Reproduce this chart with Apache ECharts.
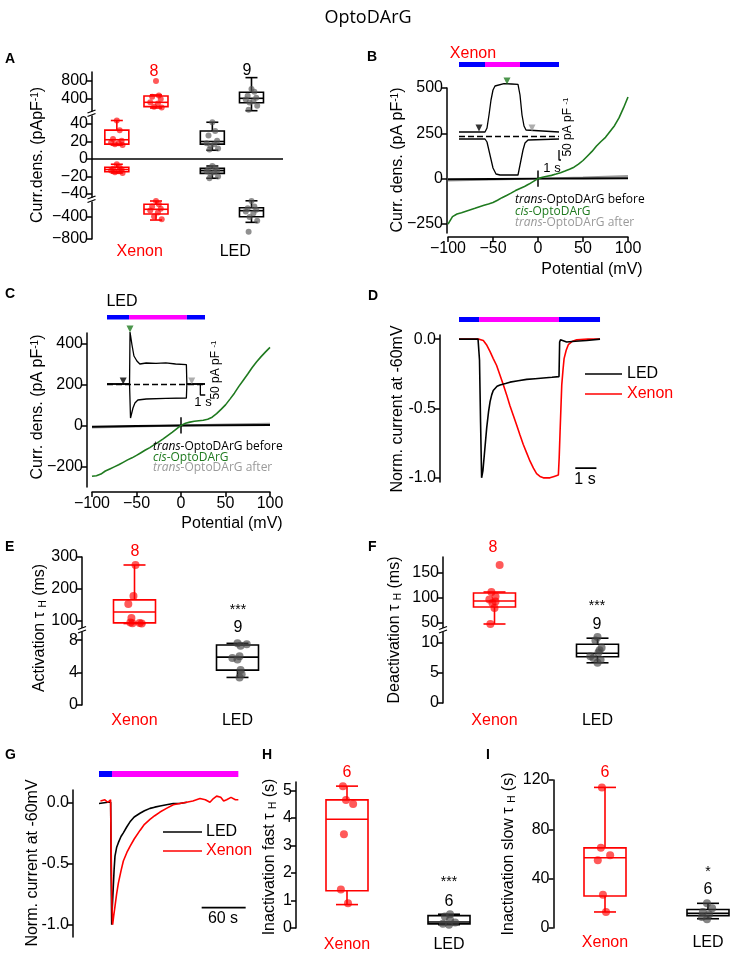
<!DOCTYPE html>
<html>
<head>
<meta charset="utf-8">
<title>OptoDArG</title>
<script src="https://cdn.jsdelivr.net/npm/echarts@6/dist/echarts.min.js"></script>
<style>
html, body { margin: 0; padding: 0; background: #fff; }
#main { width: 736px; height: 953px; }
</style>
</head>
<body>
<div id="main"></div>
<script>
// ---------- data ----------
var groups = ['Xenon', 'LED'];

// A: current density (pA/pF); box = [min, q1, median, q3, max]
var aXenTransPos = [44, 33, 23, 21, 19, 18, 17, 16];
var aXenTransPosBox = [16, 17, 22, 33, 44];
var aXenTransNeg = [-6, -10, -11, -12, -13, -14, -15, -16];
var aXenTransNegBox = [-16, -14.5, -12, -9.5, -6];
var aLedTransPos = [42, 32, 27, 21, 18, 17, 15, 12, 11];
var aLedTransPosBox = [10, 17, 20, 32, 42];
var aLedTransNeg = [-8, -10, -12, -13, -14, -15, -17, -20, -22];
var aLedTransNegBox = [-22, -16.4, -13.3, -10.7, -8];
var aXenCisPos = [800, 480, 450, 400, 330, 300, 230, 210];
var aXenCisPosBox = [200, 230, 326, 467, 490];
var aLedCisPos = [620, 560, 470, 430, 390, 350, 320, 250, 160];
var aLedCisPosBox = [140, 318, 415, 549, 875];
var aXenCisNeg = [-110, -170, -210, -250, -280, -320, -390, -440];
var aXenCisNegBox = [-455, -345, -260, -169, -109];
var aLedCisNeg = [-110, -210, -240, -270, -300, -330, -400, -470, -667];
var aLedCisNegBox = [-497, -395, -285, -231, -105];

// B: Xenon, I-V curves (mV, pA/pF)
var bCis = [[-100,-251],[-95,-210],[-90,-195],[-85,-188],[-80,-180],[-75,-172],[-70,-164],[-65,-155],[-60,-147],[-55,-140],[-50,-132],[-45,-119],[-40,-105],[-35,-93],[-30,-80],[-25,-66],[-20,-54],[-15,-43],[-10,-30],[-5,-15],[0,0],[5,8],[10,13],[15,18],[20,25],[25,33],[30,42],[35,52],[40,63],[45,80],[50,100],[55,125],[60,150],[65,180],[70,205],[75,228],[80,260],[85,292],[90,335],[95,390],[100,450]];
var bBefore = [[-100,-4],[-50,-2],[0,0],[50,1],[100,2]];
var bAfter = [[-100,-10],[-50,-5],[0,0],[50,6],[100,15]];
// B inset: time (s), current (pA/pF)
var bInsetUp = [[0,20],[5.2,20],[5.6,40],[6.0,105],[6.4,180],[6.8,230],[7.2,250],[7.6,260],[9,262],[10.5,260],[11.8,258],[12.2,205],[12.6,105],[13.0,50],[13.4,30],[13.8,20],[20,20]];
var bInsetDown = [[0,-15],[5.2,-15],[5.6,-30],[6.2,-95],[6.8,-160],[7.4,-190],[8.2,-195],[11.8,-195],[12.2,-145],[12.8,-70],[13.2,-35],[13.8,-20],[20,-15]];
var bArrows = [[4.0,40,'before'],[9.6,275,'cis'],[14.6,40,'after']];
var bLight = [[0,5.2,'blue'],[5.2,12.2,'uv'],[12.2,20,'blue']];

// C: LED, I-V curves
var cCis = [[-100,-248],[-95,-245],[-90,-237],[-85,-222],[-80,-212],[-75,-202],[-70,-192],[-65,-180],[-60,-168],[-55,-158],[-50,-146],[-45,-133],[-40,-120],[-35,-108],[-30,-94],[-25,-80],[-20,-66],[-15,-50],[-10,-34],[-5,-17],[0,0],[5,10],[10,16],[15,20],[20,23],[25,25],[30,30],[35,40],[40,57],[45,78],[50,100],[55,128],[60,157],[65,190],[70,220],[75,250],[80,282],[85,310],[90,335],[95,358],[100,380]];
var cBefore = [[-100,-6],[-50,-3],[0,0],[50,1],[100,2]];
var cAfter = [[-100,-10],[-50,-5],[0,0],[50,4],[100,8]];
var cInsetUp = [[0,0],[4.6,0],[4.7,260],[5.1,195],[5.5,140],[6.1,115],[6.7,100],[8,105],[10,103],[12,106],[14,100],[16.2,97],[16.3,0],[20,0]];
var cInsetDown = [[0,0],[4.6,0],[4.8,-170],[5.3,-120],[5.7,-95],[6.3,-80],[8,-75],[12,-72],[16.2,-70],[16.3,0],[20,0]];
var cArrows = [[3.3,15,'before'],[4.7,275,'cis'],[17.3,15,'after']];
var cLight = [[0,4.5,'blue'],[4.5,16.3,'uv'],[16.3,20,'blue']];

// D: normalised current at -60 mV (time s)
var dLed = [[0,0],[0.9,0],[0.97,-0.15],[1.02,-0.6],[1.07,-1.0],[1.13,-0.95],[1.2,-0.83],[1.31,-0.64],[1.4,-0.52],[1.47,-0.45],[1.55,-0.4],[1.62,-0.37],[1.8,-0.34],[1.94,-0.33],[2.2,-0.32],[2.41,-0.31],[2.8,-0.3],[3.2,-0.29],[3.6,-0.285],[3.99,-0.28],[4.4,-0.275],[4.73,-0.27],[4.76,-0.02],[4.8,-0.005],[5.09,-0.02],[5.5,-0.015],[6.04,-0.01],[6.67,0]];
var dXenon = [[0,0],[0.95,0],[1.15,-0.01],[1.3,-0.04],[1.47,-0.09],[1.62,-0.14],[1.78,-0.19],[1.94,-0.26],[2.1,-0.33],[2.25,-0.4],[2.41,-0.48],[2.57,-0.55],[2.73,-0.62],[2.88,-0.69],[3.04,-0.76],[3.2,-0.82],[3.36,-0.88],[3.52,-0.93],[3.67,-0.97],[3.83,-0.99],[3.99,-1.0],[4.15,-1.0],[4.3,-1.0],[4.5,-0.99],[4.7,-0.98],[4.74,-0.85],[4.78,-0.67],[4.82,-0.5],[4.86,-0.33],[4.92,-0.22],[4.97,-0.14],[5.07,-0.08],[5.17,-0.04],[5.37,-0.015],[5.57,-0.005],[6.1,0],[6.67,0]];
var dLight = [[0,0.95,'blue'],[0.95,4.73,'uv'],[4.73,6.67,'blue']];

// E: activation tau (ms)
var eXenon = [275, 178, 153, 109, 95, 94, 93, 92];
var eXenonBox = [92, 94, 128, 166, 275];
var eLed = [7.6, 7.5, 7.3, 6.0, 5.8, 5.6, 4.3, 3.8, 3.4];
var eLedBox = [3.4, 4.3, 5.9, 7.4, 7.6];
// F: deactivation tau (ms)
var fXenon = [166, 112, 103, 97, 93, 90, 80, 48];
var fXenonBox = [48, 82, 94, 110, 112];
var fLed = [11.0, 10.4, 9.2, 8.8, 8.4, 7.8, 7.5, 7.2, 6.7];
var fLedBox = [6.7, 7.7, 8.3, 9.8, 10.8];

// G: inactivation traces (time s)
var gLed = [[0,-0.01],[12,0],[15.9,0],[16.6,-0.6],[17.3,-1.0],[18.2,-0.85],[19.5,-0.69],[20.6,-0.55],[21.8,-0.44],[24,-0.37],[26.4,-0.33],[30,-0.28],[33.2,-0.25],[38,-0.2],[42.3,-0.16],[48,-0.12],[55.9,-0.09],[62,-0.07],[69.5,-0.05],[76,-0.04],[83.2,-0.03],[92,-0.02],[101.3,-0.01],[110,-0.01],[120,0]];
var gXenon = [[2,0.01],[8,0.02],[12,0.0],[15.8,0.02],[16.4,-0.3],[17.5,-0.8],[18.6,-1.0],[20,-0.93],[21.8,-0.85],[24,-0.75],[26.4,-0.66],[30,-0.56],[33.2,-0.48],[38,-0.41],[42.3,-0.36],[48,-0.3],[55.9,-0.23],[62,-0.18],[69.5,-0.14],[76,-0.11],[83.2,-0.08],[92,-0.05],[101.3,-0.02],[110,-0.01],[119.5,0.0],[128,0.01],[137.7,0.03],[145,0.02],[151.3,0.0],[156,0.03],[160.4,0.05],[166,0.04],[170,0.01],[174,0.02],[180,0.04],[186,0.02],[190,0.02]];
var gLight = [[0,17.7,'blue'],[17.7,190,'uv']];

// H: inactivation fast tau (s)
var hXenon = [5.15, 4.65, 4.5, 3.4, 1.4, 0.9];
var hXenonBox = [0.85, 1.35, 3.95, 4.65, 5.15];
var hLed = [0.5, 0.42, 0.3, 0.2, 0.15, 0.12];
var hLedBox = [0.12, 0.15, 0.22, 0.45, 0.5];
// I: inactivation slow tau (s)
var iXenon = [114, 65, 59, 55, 27, 13];
var iXenonBox = [13, 26, 57, 65, 114];
var iLed = [20, 16, 13, 11, 9, 7];
var iLedBox = [7.5, 10, 12, 15, 20];

// ---------- styling ----------
var FONT = '"Liberation Sans", Arial, sans-serif';
var FONT2 = '"Open Sans", sans-serif';
var RED = '#ff0000';
var GREEN = '#1f7a1f';
var GREY = '#9a9a9a';
var lightColor = { blue: '#0000ff', uv: '#ff00ff' };
var arrowColor = { before: '#000', cis: GREEN, after: GREY };
var jitA = [0.0, 0.03, -0.04, 0.05, -0.06, 0.02, -0.02, 0.06, -0.03];
var jitEX = [0.01, -0.01, -0.06, -0.03, -0.04, 0.05, -0.02, 0.07];
var jitEL = [0, 0.09, 0.03, 0.02, -0.05, 0, 0.03, 0.04, 0.02];
var jitFX = [0.05, -0.03, 0.01, -0.05, 0.01, -0.02, 0.0, -0.04];
var jitFL = [0, -0.02, 0.04, 0.02, 0.01, -0.07, -0.04, 0.03, 0];
var jitHX = [-0.04, -0.01, 0.06, -0.03, -0.06, 0.01];
var jitHL = [0.01, -0.04, 0.01, 0.06, -0.06, 0];
var jitIX = [-0.03, -0.04, 0.05, -0.07, -0.02, 0.01];
var jitIL = [-0.01, 0.04, -0.05, 0.01, -0.06, -0.01];

var grids = [], xAxes = [], yAxes = [], series = [], graphics = [];

function addGrid(g) { grids.push(Object.assign({ show: false, containLabel: false, outerBoundsMode: 'none' }, g)); return grids.length - 1; }
function addX(o) { xAxes.push(o); return xAxes.length - 1; }
function addY(o) { yAxes.push(o); return yAxes.length - 1; }
function hidden(gi, min, max) { return { type: 'value', gridIndex: gi, min: min, max: max, show: false }; }
function minus(v) { return String(v).replace('-', '\u2212'); }
function oneDec(v) { return v.toFixed(1); }
function plain(v) { return String(v); }

function visValue(gi, min, max, ticks, fmt, extra) {
  return Object.assign({
    type: 'value', gridIndex: gi, min: min, max: max,
    axisLine: { show: true, onZero: false, lineStyle: { color: '#000', width: 1.5 } },
    axisTick: { show: true, inside: false, length: 5, customValues: ticks, lineStyle: { color: '#000', width: 1.5 } },
    axisLabel: { show: true, customValues: ticks, color: '#000', fontSize: 16, fontFamily: FONT, margin: 4, formatter: fmt },
    splitLine: { show: false }
  }, extra || {});
}
function catAxis(gi, margin) {
  return {
    type: 'category', gridIndex: gi, data: groups, position: 'bottom',
    axisLine: { show: false }, axisTick: { show: false }, splitLine: { show: false },
    axisLabel: { show: true, interval: 0, margin: margin, fontSize: 16, fontFamily: FONT,
      color: function (v) { return v === 'Xenon' ? RED : '#000'; } }
  };
}

function boxRender(boxW, capW, color) {
  return function (params, api) {
    var x = api.value(0);
    var lo = api.coord([x, api.value(1)]), q1 = api.coord([x, api.value(2)]),
        md = api.coord([x, api.value(3)]), q3 = api.coord([x, api.value(4)]),
        hi = api.coord([x, api.value(5)]);
    var cx = md[0];
    var st = { stroke: color, lineWidth: 1.6, fill: 'none' };
    return { type: 'group', children: [
      { type: 'line', shape: { x1: cx, y1: hi[1], x2: cx, y2: q3[1] }, style: st },
      { type: 'line', shape: { x1: cx, y1: q1[1], x2: cx, y2: lo[1] }, style: st },
      { type: 'line', shape: { x1: cx - capW / 2, y1: hi[1], x2: cx + capW / 2, y2: hi[1] }, style: st },
      { type: 'line', shape: { x1: cx - capW / 2, y1: lo[1], x2: cx + capW / 2, y2: lo[1] }, style: st },
      { type: 'rect', shape: { x: cx - boxW / 2, y: q3[1], width: boxW, height: q1[1] - q3[1] }, style: st },
      { type: 'line', shape: { x1: cx - boxW / 2, y1: md[1], x2: cx + boxW / 2, y2: md[1] }, style: st }
    ] };
  };
}
function addBox(xi, yi, center, stats, color, boxW, capW) {
  series.push({ type: 'custom', xAxisIndex: xi, yAxisIndex: yi, silent: true, z: 2,
    renderItem: boxRender(boxW, capW, color), encode: { x: 0, y: [1, 2, 3, 4, 5] },
    data: [[center].concat(stats)] });
}
function addDots(xi, yi, center, vals, jit, color, size) {
  series.push({ type: 'scatter', xAxisIndex: xi, yAxisIndex: yi, silent: true, z: 3, symbolSize: size,
    itemStyle: { color: color, opacity: 0.65 },
    data: vals.map(function (v, i) { return [center + jit[i % jit.length], v]; }) });
}
function addLine(xi, yi, data, color, width, extra) {
  series.push(Object.assign({ type: 'line', xAxisIndex: xi, yAxisIndex: yi, data: data, symbol: 'none',
    showSymbol: false, silent: true, z: 2, lineStyle: { color: color, width: width }, itemStyle: { color: color } }, extra || {}));
}
function addLight(rect, tmax, segs) {
  var gi = addGrid(rect);
  var xi = addX(hidden(gi, 0, tmax)), yi = addY(hidden(gi, 0, 1));
  series.push({ type: 'custom', xAxisIndex: xi, yAxisIndex: yi, silent: true,
    data: segs.map(function (s) { return [s[0], s[1]]; }),
    renderItem: function (params, api) {
      var a = api.coord([api.value(0), 1]), b = api.coord([api.value(1), 0]);
      return { type: 'rect', shape: { x: a[0], y: a[1], width: b[0] - a[0], height: b[1] - a[1] },
        style: { fill: lightColor[segs[params.dataIndex][2]] } };
    } });
}
function addArrows(xi, yi, arr) {
  series.push({ type: 'scatter', xAxisIndex: xi, yAxisIndex: yi, silent: true, z: 4, symbol: 'triangle',
    symbolRotate: 180, symbolSize: [7, 7],
    data: arr.map(function (a) { return { value: [a[0], a[1]], itemStyle: { color: arrowColor[a[2]] } }; }) });
}
function text(x, y, str, opt) {
  opt = opt || {};
  var st = { text: str, fill: opt.color || '#000',
    fontSize: opt.size || 16, fontFamily: opt.family || FONT, fontWeight: opt.weight || 'normal',
    align: opt.align || 'center', textAlign: opt.align || 'center',
    verticalAlign: 'middle', textVerticalAlign: 'middle' };
  if (opt.rich) st.rich = opt.rich;
  graphics.push({ type: 'text', x: x, y: y, rotation: opt.rot || 0, silent: true, z: 100, style: st });
}
function seg(x1, y1, x2, y2, color, w, dash) {
  graphics.push({ type: 'line', silent: true, z: 100, shape: { x1: x1, y1: y1, x2: x2, y2: y2 },
    style: { stroke: color, lineWidth: w || 1.5, lineDash: dash || null } });
}
function breakMark(x, y) {
  graphics.push({ type: 'rect', silent: true, z: 99, shape: { x: x - 3, y: y - 2, width: 6, height: 4 }, style: { fill: '#fff' } });
  seg(x - 4, y - 0.5, x + 4, y - 3.5, '#000', 1.3);
  seg(x - 4, y + 3, x + 4, y, '#000', 1.3);
}

// ---------- panel A ----------
var aTop = addGrid({ left: 92, width: 191, top: 72, height: 40.5 });
var aMid = addGrid({ left: 92, width: 191, top: 115.25, height: 83.125 });
var aBot = addGrid({ left: 92, width: 191, top: 200.5, height: 38.5 });
var aTopX = addX(hidden(aTop, -0.5, 1.5));
var aMidX = addX(hidden(aMid, -0.5, 1.5));
var aBotX = addX(hidden(aBot, -0.5, 1.5));
addX(catAxis(aBot, 5));
var aTopY = addY(visValue(aTop, 100, 1000, [400, 800], minus));
var aMidY = addY(visValue(aMid, -45, 50, [-40, -20, 0, 20, 40], minus));
var aBotY = addY(visValue(aBot, -800, -100, [-800, -400], minus));
var pT = -0.24, pC = 0.17;
addBox(aTopX, aTopY, pC, aXenCisPosBox, RED, 24, 12);
addDots(aTopX, aTopY, pC, aXenCisPos, jitA, RED, 6);
addBox(aTopX, aTopY, 1 + pC, aLedCisPosBox, '#000', 24, 12);
addDots(aTopX, aTopY, 1 + pC, aLedCisPos, jitA, '#555', 6);
addBox(aMidX, aMidY, pT, aXenTransPosBox, RED, 24, 12);
addDots(aMidX, aMidY, pT, aXenTransPos, jitA, RED, 6);
addBox(aMidX, aMidY, pT, aXenTransNegBox, RED, 24, 12);
addDots(aMidX, aMidY, pT, aXenTransNeg, jitA, RED, 6);
addBox(aMidX, aMidY, 1 + pT, aLedTransPosBox, '#000', 24, 12);
addDots(aMidX, aMidY, 1 + pT, aLedTransPos, jitA, '#555', 6);
addBox(aMidX, aMidY, 1 + pT, aLedTransNegBox, '#000', 24, 12);
addDots(aMidX, aMidY, 1 + pT, aLedTransNeg, jitA, '#555', 6);
series[series.length - 1].markLine = { silent: true, symbol: 'none', label: { show: false },
  lineStyle: { color: '#000', width: 1.5, type: 'solid' }, data: [{ yAxis: 0 }] };
addBox(aBotX, aBotY, pC, aXenCisNegBox, RED, 24, 12);
addDots(aBotX, aBotY, pC, aXenCisNeg, jitA, RED, 6);
addBox(aBotX, aBotY, 1 + pC, aLedCisNegBox, '#000', 24, 12);
addDots(aBotX, aBotY, 1 + pC, aLedCisNeg, jitA, '#555', 6);
breakMark(91.5, 113.5);
breakMark(91.5, 199.5);
text(10, 59, 'A', { weight: 'bold', size: 14 });
text(154, 72, '8', { color: RED });
text(247, 71, '9');
text(38, 155, '{n|Curr.dens. (pApF}{s|-1}{n|)}', { rot: Math.PI / 2,
  rich: { n: { fontSize: 16, fontFamily: FONT, fill: '#000' }, s: { fontSize: 10, fontFamily: FONT, fill: '#000', verticalAlign: 'top' } } });

// ---------- panel B ----------
addLight({ left: 459, width: 100, top: 62, height: 5 }, 20, bLight);
var bG = addGrid({ left: 448, width: 180, top: 88, height: 145 });
var bX = addX(visValue(bG, -100, 100, [-100, -50, 0, 50, 100], minus, { offset: 4 }));
var bY = addY(visValue(bG, -300, 500, [-250, 0, 250, 500], minus, { offset: 1 }));
addLine(bX, bY, bAfter, GREY, 2);
addLine(bX, bY, bBefore, '#000', 2);
addLine(bX, bY, [[0, -45], [0, 45]], '#000', 1.5);
addLine(bX, bY, bCis, GREEN, 1.6);
var bIG = addGrid({ left: 459, width: 100, top: 76, height: 104 });
var bIX = addX(hidden(bIG, 0, 20)), bIY = addY(hidden(bIG, -220, 300));
addLine(bIX, bIY, bInsetUp, '#000', 1.3, { markLine: { silent: true, symbol: 'none', label: { show: false },
  lineStyle: { color: '#000', width: 1.3, type: [6, 3] }, data: [{ yAxis: 0 }] } });
addLine(bIX, bIY, bInsetDown, '#000', 1.3);
addLine(bIX, bIY, [[20, -70], [20, -120], [21, -120]], '#000', 1.3);
addArrows(bIX, bIY, bArrows);
text(367, 57, 'B', { weight: 'bold', size: 14, align: 'left' });
text(473, 54, 'Xenon', { color: RED });
text(552, 168, '1 s', { size: 13 });
text(568, 127, '{n|50 pA pF }{s|-1}', { rot: Math.PI / 2,
  rich: { n: { fontSize: 12, fontFamily: FONT, fill: '#000' }, s: { fontSize: 8, fontFamily: FONT, fill: '#000', verticalAlign: 'top' } } });
text(398, 160, '{n|Curr. dens. (pA pF}{s|-1}{n|)}', { rot: Math.PI / 2,
  rich: { n: { fontSize: 16, fontFamily: FONT, fill: '#000' }, s: { fontSize: 10, fontFamily: FONT, fill: '#000', verticalAlign: 'top' } } });
text(592, 270, 'Potential (mV)');
function legendIV(x, y0, dy) {
  var r = { i: { fontStyle: 'italic', fontSize: 12, fontFamily: FONT2 }, n: { fontSize: 12, fontFamily: FONT2 } };
  function rr(c) { return { i: Object.assign({ fill: c }, r.i), n: Object.assign({ fill: c }, r.n) }; }
  text(x, y0, '{i|trans}{n|-OptoDArG before}', { align: 'left', rich: rr('#000') });
  text(x, y0 + dy, '{i|cis}{n|-OptoDArG}', { align: 'left', rich: rr(GREEN) });
  text(x, y0 + 2 * dy, '{i|trans}{n|-OptoDArG after}', { align: 'left', rich: rr(GREY) });
}
legendIV(515, 200, 11.5);

// ---------- panel C ----------
addLight({ left: 107, width: 98, top: 315, height: 4.5 }, 20, cLight);
var cG = addGrid({ left: 92, width: 178, top: 333, height: 154 });
var cX = addX(visValue(cG, -100, 100, [-100, -50, 0, 50, 100], minus, { offset: 5 }));
var cY = addY(visValue(cG, -300, 450, [-200, 0, 200, 400], minus, { offset: 5 }));
addLine(cX, cY, cAfter, GREY, 2);
addLine(cX, cY, cBefore, '#000', 2);
addLine(cX, cY, [[0, -40], [0, 40]], '#000', 1.5);
addLine(cX, cY, cCis, GREEN, 1.6);
var cIG = addGrid({ left: 107, width: 98, top: 326, height: 96 });
var cIX = addX(hidden(cIG, 0, 20)), cIY = addY(hidden(cIG, -190, 290));
addLine(cIX, cIY, cInsetUp, '#000', 1.3, { markLine: { silent: true, symbol: 'none', label: { show: false },
  lineStyle: { color: '#000', width: 1.3, type: [6, 3] }, data: [{ yAxis: 0 }] } });
addLine(cIX, cIY, cInsetDown, '#000', 1.3);
addLine(cIX, cIY, [[19.05, -5], [19.05, -55], [20.05, -55]], '#000', 1.3);
addArrows(cIX, cIY, cArrows);
text(5, 294.5, 'C', { weight: 'bold', size: 14, align: 'left' });
text(122, 302, 'LED');
text(203, 402, '1 s', { size: 13 });
text(216, 370, '{n|50 pA pF }{s|-1}', { rot: Math.PI / 2,
  rich: { n: { fontSize: 12, fontFamily: FONT, fill: '#000' }, s: { fontSize: 8, fontFamily: FONT, fill: '#000', verticalAlign: 'top' } } });
text(38, 407, '{n|Curr. dens. (pA pF}{s|-1}{n|)}', { rot: Math.PI / 2,
  rich: { n: { fontSize: 16, fontFamily: FONT, fill: '#000' }, s: { fontSize: 10, fontFamily: FONT, fill: '#000', verticalAlign: 'top' } } });
text(232, 524, 'Potential (mV)');
legendIV(153, 447, 10.5);

// ---------- panel D ----------
addLight({ left: 459, width: 148, top: 317, height: 5 }, 7, dLight);
var dG = addGrid({ left: 459, width: 148, top: 335, height: 147 });
var dX = addX(hidden(dG, 0, 7));
var dY = addY(visValue(dG, -1.03, 0.03, [-1, -0.5, 0], oneDec, { offset: 19 }));
addLine(dX, dY, dXenon, RED, 1.6);
addLine(dX, dY, dLed, '#000', 1.6);
addLine(dX, dY, [[5.5, -0.93], [6.5, -0.93]], '#000', 1.6);
text(368, 296, 'D', { weight: 'bold', size: 14, align: 'left' });
text(398, 409, 'Norm. current at -60mV', { rot: Math.PI / 2 });
text(585, 480, '1 s');
seg(585, 374, 622, 374, '#000', 1.6);
seg(585, 394, 622, 394, RED, 1.6);
text(627, 374, 'LED', { align: 'left' });
text(627, 394, 'Xenon', { align: 'left', color: RED });

// ---------- panel E ----------
var eTop = addGrid({ left: 83, width: 206, top: 557, height: 71 });
var eBot = addGrid({ left: 83, width: 206, top: 632, height: 73 });
var eTopX = addX(hidden(eTop, -0.5, 1.5)), eBotX = addX(hidden(eBot, -0.5, 1.5));
addX(catAxis(eBot, 8));
var eTopY = addY(visValue(eTop, 78, 300, [100, 200, 300], plain, { offset: 1 }));
var eBotY = addY(visValue(eBot, 0, 9, [0, 4, 8], plain, { offset: 1 }));
addBox(eTopX, eTopY, 0, eXenonBox, RED, 42, 22);
addDots(eTopX, eTopY, 0, eXenon, jitEX, RED, 8);
addBox(eBotX, eBotY, 1, eLedBox, '#000', 42, 22);
addDots(eBotX, eBotY, 1, eLed, jitEL, '#444', 8);
breakMark(82, 630);
text(5, 547.5, 'E', { weight: 'bold', size: 14, align: 'left' });
text(135, 552, '8', { color: RED });
text(238, 610, '***', { size: 14 });
text(238, 628, '9');
var tauRich = { n: { fontSize: 16, fontFamily: FONT, fill: '#000' }, s: { fontSize: 10, fontFamily: FONT, fill: '#000', verticalAlign: 'bottom' } };
text(40, 628, '{n|Activation \u03c4 }{s|H}{n| (ms)}', { rot: Math.PI / 2, rich: tauRich });

// ---------- panel F ----------
var fTop = addGrid({ left: 443, width: 206, top: 557, height: 72 });
var fBot = addGrid({ left: 443, width: 206, top: 632, height: 71 });
var fTopX = addX(hidden(fTop, -0.5, 1.5)), fBotX = addX(hidden(fBot, -0.5, 1.5));
addX(catAxis(fBot, 10));
var fTopY = addY(visValue(fTop, 38, 182, [50, 100, 150], plain));
var fBotY = addY(visValue(fBot, 0, 11.83, [0, 5, 10], plain));
addBox(fTopX, fTopY, 0, fXenonBox, RED, 42, 22);
addDots(fTopX, fTopY, 0, fXenon, jitFX, RED, 8);
addBox(fBotX, fBotY, 1, fLedBox, '#000', 42, 22);
addDots(fBotX, fBotY, 1, fLed, jitFL, '#444', 8);
breakMark(443, 630);
text(368, 547.5, 'F', { weight: 'bold', size: 14, align: 'left' });
text(493, 548, '8', { color: RED });
text(597, 606, '***', { size: 14 });
text(597, 625, '9');
text(395, 630, '{n|Deactivation \u03c4 }{s|H}{n| (ms)}', { rot: Math.PI / 2, rich: tauRich });

// ---------- panel G ----------
addLight({ left: 99, width: 146.67, top: 771, height: 6 }, 200, gLight);
var gG = addGrid({ left: 99, width: 146.67, top: 790, height: 147 });
var gX = addX(hidden(gG, 0, 200));
var gY = addY(visValue(gG, -1.1, 0.1, [-1, -0.5, 0], oneDec, { offset: 26 }));
addLine(gX, gY, gLed, '#000', 1.6);
addLine(gX, gY, gXenon, RED, 1.6);
addLine(gX, gY, [[140, -0.86], [200, -0.86]], '#000', 1.6);
text(5, 755, 'G', { weight: 'bold', size: 14, align: 'left' });
text(33, 863, 'Norm. current at -60mV', { rot: Math.PI / 2 });
text(223, 919, '60 s');
seg(163, 832, 202, 832, '#000', 1.6);
seg(163, 851, 202, 851, RED, 1.6);
text(206, 832, 'LED', { align: 'left' });
text(206, 851, 'Xenon', { align: 'left', color: RED });

// ---------- panel H ----------
var hG = addGrid({ left: 296, width: 204, top: 782, height: 146 });
var hX = addX(hidden(hG, -0.5, 1.5));
addX(catAxis(hG, 9));
var hY = addY(visValue(hG, 0, 5.3, [0, 1, 2, 3, 4, 5], plain));
addBox(hX, hY, 0, hXenonBox, RED, 42, 22);
addDots(hX, hY, 0, hXenon, jitHX, RED, 8);
addBox(hX, hY, 1, hLedBox, '#000', 42, 22);
addDots(hX, hY, 1, hLed, jitHL, '#444', 8);
text(262, 755, 'H', { weight: 'bold', size: 14, align: 'left' });
text(347, 773, '6', { color: RED });
text(449, 882, '***', { size: 14 });
text(449, 902, '6');
text(270, 857, '{n|Inactivation fast \u03c4 }{s|H}{n| (s)}', { rot: Math.PI / 2, rich: tauRich });

// ---------- panel I ----------
var iG = addGrid({ left: 553.5, width: 206, top: 780, height: 148 });
var iX = addX(hidden(iG, -0.5, 1.5));
addX(catAxis(iG, 7));
var iY = addY(visValue(iG, 0, 120, [0, 40, 80, 120], plain));
addBox(iX, iY, 0, iXenonBox, RED, 42, 22);
addDots(iX, iY, 0, iXenon, jitIX, RED, 8);
addBox(iX, iY, 1, iLedBox, '#000', 42, 22);
addDots(iX, iY, 1, iLed, jitIL, '#444', 8);
text(486, 755, 'I', { weight: 'bold', size: 14, align: 'left' });
text(605, 773, '6', { color: RED });
text(708, 872, '*', { size: 14 });
text(708, 890, '6');
text(509, 854, '{n|Inactivation slow \u03c4 }{s|H}{n| (s)}', { rot: Math.PI / 2, rich: tauRich });

// title
text(368, 18, 'OptoDArG', { size: 18, family: FONT2 });

var chart = echarts.init(document.getElementById('main'), null, { renderer: 'canvas' });
chart.setOption({
  animation: false,
  backgroundColor: '#fff',
  textStyle: { fontFamily: FONT },
  grid: grids,
  xAxis: xAxes,
  yAxis: yAxes,
  series: series,
  graphic: { elements: graphics }
});
</script>
</body>
</html>
